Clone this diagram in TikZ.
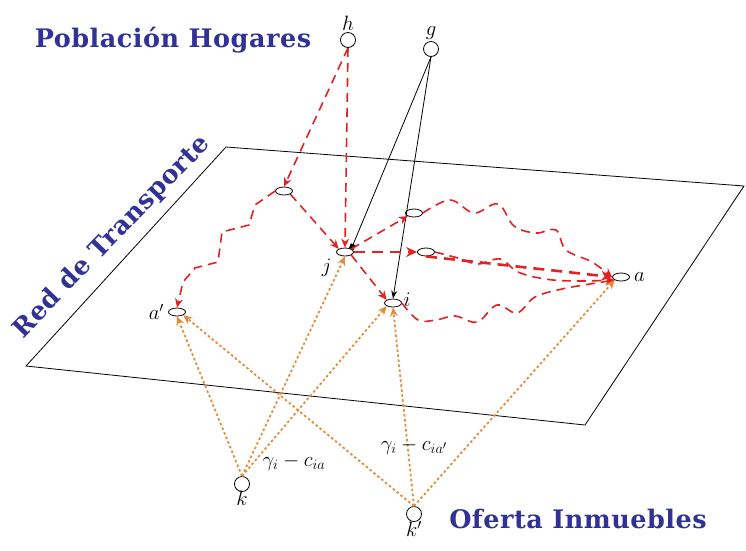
\documentclass[tikz,border=0pt]{standalone}
\usepackage{fontspec}
\usepackage{xcolor}
\newfontfamily\slabfont[LetterSpace=2]{DejaVu Serif}
\usetikzlibrary{arrows.meta,shapes.geometric,calc}

\definecolor{titleblue}{RGB}{50,50,150}
\definecolor{tripred}{RGB}{225,35,35}
\definecolor{offerorange}{RGB}{228,140,60}

\begin{document}
\begin{tikzpicture}[x=1pt, y=-1pt,
    hub/.style={circle, draw, thick, fill=white, minimum size=15pt, inner sep=0pt},
    zone/.style={ellipse, draw, thick, fill=white, minimum width=17pt, minimum height=8pt, inner sep=0pt},
    tag/.style={font=\huge, inner sep=1pt},
    heading/.style={font=\slabfont\bfseries\fontsize{25.5}{28}\selectfont, text=titleblue},
    trip/.style={line width=1.6pt, tripred, dash pattern=on 9pt off 6pt, -{Stealth[length=9pt, width=8pt]}},
    trunk/.style={line width=2.6pt, tripred, dash pattern=on 11pt off 7pt, -{Stealth[length=11pt, width=10pt]}},
    offer/.style={line width=1.8pt, offerorange, dash pattern=on 2.5pt off 2.5pt, -{Stealth[length=9pt, width=8pt]}},
    assign/.style={thick, black, -{Square[length=5pt]}}]

    \useasboundingbox (0,0) rectangle (746,550);

    % Transport network plane
    \draw[thick] (226,147) -- (744,186) -- (585,425) -- (26,366) -- cycle;
    \node[heading, rotate=46] (net) at (112,237) {Red de Transporte};

    % Households and offer titles
    \node[heading] (pop) at (173,40) {Población Hogares};
    \node[heading] (off) at (578,519) {Oferta Inmuebles};

    % Households
    \node[hub] (h) at (348,40) {};
    \node[tag, above=0pt] at (h.north) {$h$};
    \node[hub] (g) at (431,49) {};
    \node[tag, above=0pt] at (g.north) {$g$};

    % Dwellings
    \node[hub] (k) at (242,484) {};
    \node[tag, below=-2pt] at (k.south) {$k$};
    \node[hub] (kp) at (414,514) {};
    \node[tag, below=-2pt] at (kp.south) {$k'$};

    % Zones on the network
    \node[zone] (u1) at (284,191) {};
    \node[zone] (u2) at (414,213) {};
    \node[zone] (u3) at (426,252) {};
    \node[zone] (j) at (345,252) {};
    \node[tag, anchor=north east] at ([xshift=-6pt, yshift=-3pt]j.south west) {$j$};
    \node[zone] (i) at (393,303) {};
    \node[tag, right=3pt] at (i.north east) {$i$};
    \node[zone] (ap) at (177,312) {};
    \node[tag, left=3pt] at (ap.west) {$a'$};
    \node[zone] (a) at (621,277) {};
    \node[tag, right=3pt] at (a.east) {$a$};

    % Location choice of g (solid)
    \draw[assign] (g.south) -- (j.north east);
    \draw[assign, -{Stealth[length=8pt]}] (g.south) -- (i.north);

    % Trips (red dashed)
    \draw[trip] (h.south) -- (j.north);
    \draw[trip] (h.south) -- (u1.north);
    \draw[trip] (u1.south east) -- (j.north west);
    \draw[trip] (u1.west) -- (255,205) -- (249,225) -- (222,232) -- (218,262) -- (195,268) -- (183,282) -- (ap.north);
    \draw[trip] (j.north east) -- (u2.south west);
    \draw[trip] (j.south east) -- (i.north west);
    \draw[trunk] (j.east) -- (u3.west);
    \draw[trunk] (u3.south) -- (a.west);
    \draw[trip] plot[smooth, tension=0.6] coordinates {(u2.east) (450,200) (474,213) (498,204) (514,226) (536,233) (556,230) (566,250) (592,262) (a.west)};
    \draw[trip] plot[smooth, tension=0.6] coordinates {(u3.east) (458,258) (478,264) (500,259) (518,272) (545,279) (575,281) (a.south west)};
    \draw[trip] plot[smooth, tension=0.6] coordinates {(i.east) (418,320) (436,320) (455,316) (477,322) (497,305) (517,313) (535,297) (562,289) (590,284) (a.south west)};

    % Bids of dwellings (orange dotted)
    \draw[offer] (k.north) -- (ap.south);
    \draw[offer] (k.north) -- (j.south);
    \draw[offer] (k.north) -- (i.south west);
    \draw[offer] (kp.north) -- (ap.south east);
    \draw[offer] (kp.north) -- (i.south);
    \draw[offer] (kp.north) -- (a.south west);

    % Bid values
    \node[font=\huge] (bk) at (294,462) {$\gamma_i - c_{ia}$};
    \node[font=\huge] (bkp) at (414,446) {$\gamma_i - c_{ia'}$};
\end{tikzpicture}
\end{document}
